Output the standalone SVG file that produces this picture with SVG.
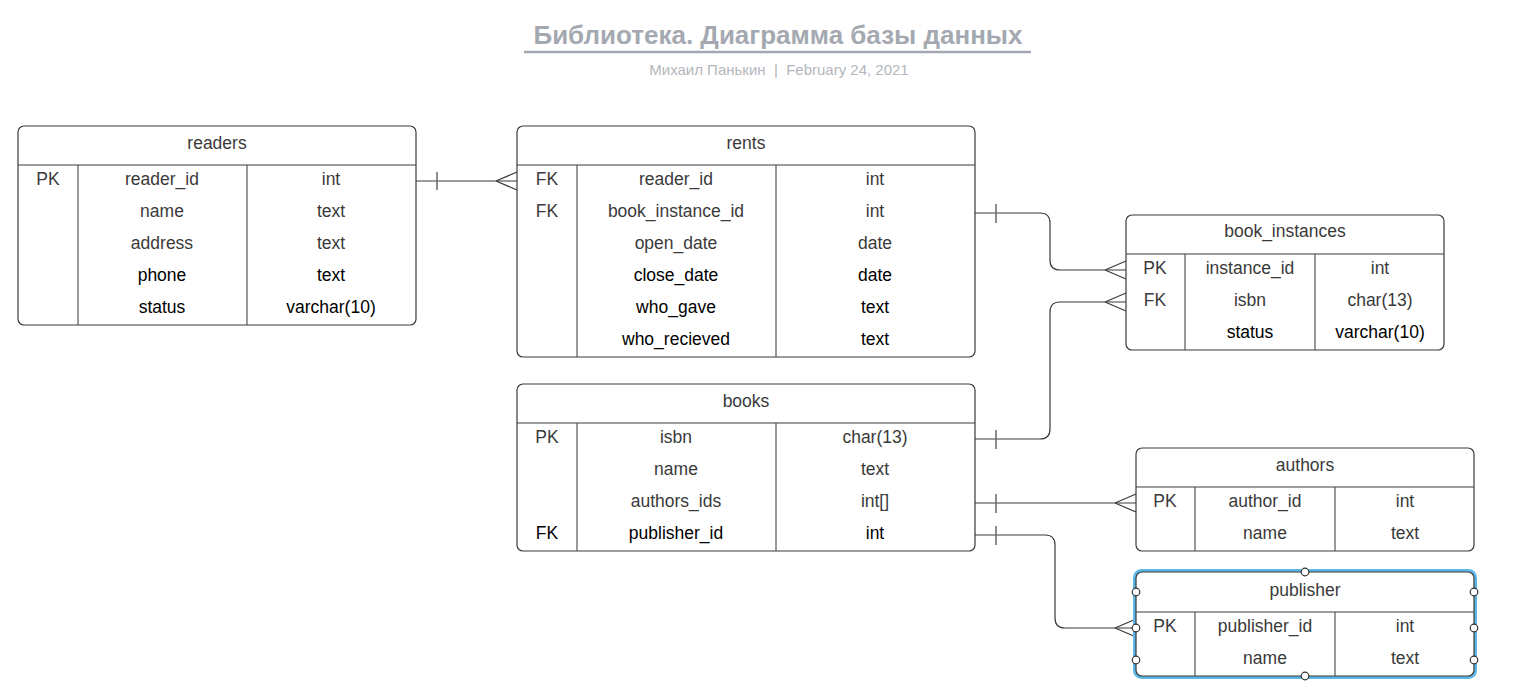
<svg xmlns="http://www.w3.org/2000/svg" width="1521" height="692" viewBox="0 0 1521 692">
<style>
text{font-family:"Liberation Sans",Arial,sans-serif;font-size:17.5px;text-anchor:middle;fill:#3a3a3a}
.k{fill:#000}
.box{fill:#fff;stroke:#3a3a3a;stroke-width:1.2}
.ln{stroke:#555;stroke-width:1.2;fill:none}
.cn{stroke:#3a3a3a;stroke-width:1.2;fill:none}
.bar{stroke:#666;stroke-width:1.5}
.title{font-size:26px;font-weight:bold;fill:#a4a9b1}
.sub{font-size:15px;fill:#b3b7bd}
.h{fill:#fff;stroke:#333;stroke-width:1.2}
</style>
<rect width="1521" height="692" fill="#fff"/>
<g id="title">
<text class="title" x="778" y="44">Библиотека. Диаграмма базы данных</text>
<line x1="524" y1="52" x2="1031" y2="52" stroke="#a4a9b1" stroke-width="2.5"/>
<text class="sub" x="779" y="75" xml:space="preserve">Михаил Панькин  |  February 24, 2021</text>
</g>
<g id="connectors">
<line class="cn" x1="416" y1="181" x2="517" y2="181"/>
<line class="bar" x1="437" y1="172" x2="437" y2="190"/>
<path class="cn" d="M496 181 L517 172 M496 181 L517 190"/>
<path class="cn" d="M975 213 H1040 Q1050 213 1050 223 V260 Q1050 270 1060 270 H1126"/>
<line class="bar" x1="996" y1="204" x2="996" y2="223"/>
<path class="cn" d="M1105 270 L1126 261 M1105 270 L1126 279"/>
<path class="cn" d="M975 439 H1040 Q1050 439 1050 429 V312 Q1050 302 1060 302 H1126"/>
<line class="bar" x1="996" y1="430" x2="996" y2="449"/>
<path class="cn" d="M1105 302 L1126 293 M1105 302 L1126 311"/>
<line class="cn" x1="975" y1="503" x2="1136" y2="503"/>
<line class="bar" x1="996" y1="494" x2="996" y2="513"/>
<path class="cn" d="M1115 503 L1136 494 M1115 503 L1136 512"/>
<path class="cn" d="M975 535 H1045 Q1055 535 1055 545 V618 Q1055 628 1065 628 H1136"/>
<line class="bar" x1="996" y1="526" x2="996" y2="545"/>
<path class="cn" d="M1115 628 L1136 619 M1115 628 L1136 637"/>
</g>
<g id="readers">
<rect class="box" x="18" y="126" width="398" height="199" rx="6"/>
<line class="cn" x1="18" y1="165" x2="416" y2="165"/>
<line class="ln" x1="78" y1="165" x2="78" y2="325"/>
<line class="ln" x1="247" y1="165" x2="247" y2="325"/>
<text x="217" y="149">readers</text>
<text x="48" y="185">PK</text><text x="162" y="185">reader_id</text><text x="331" y="185">int</text>
<text x="162" y="217">name</text><text x="331" y="217">text</text>
<text x="162" y="249">address</text><text x="331" y="249">text</text>
<text class="k" x="162" y="281">phone</text><text class="k" x="331" y="281">text</text>
<text class="k" x="162" y="313">status</text><text class="k" x="331" y="313">varchar(10)</text>
</g>
<g id="rents">
<rect class="box" x="517" y="126" width="458" height="231" rx="6"/>
<line class="cn" x1="517" y1="165" x2="975" y2="165"/>
<line class="ln" x1="577" y1="165" x2="577" y2="357"/>
<line class="ln" x1="776" y1="165" x2="776" y2="357"/>
<text x="746" y="149">rents</text>
<text x="547" y="185">FK</text><text x="676" y="185">reader_id</text><text x="875" y="185">int</text>
<text x="547" y="217">FK</text><text x="676" y="217">book_instance_id</text><text x="875" y="217">int</text>
<text x="676" y="249">open_date</text><text x="875" y="249">date</text>
<text class="k" x="676" y="281">close_date</text><text class="k" x="875" y="281">date</text>
<text class="k" x="676" y="313">who_gave</text><text class="k" x="875" y="313">text</text>
<text class="k" x="676" y="345">who_recieved</text><text class="k" x="875" y="345">text</text>
</g>
<g id="book_instances">
<rect class="box" x="1126" y="215" width="318" height="135" rx="6"/>
<line class="cn" x1="1126" y1="254" x2="1444" y2="254"/>
<line class="ln" x1="1185" y1="254" x2="1185" y2="350"/>
<line class="ln" x1="1315" y1="254" x2="1315" y2="350"/>
<text x="1285" y="237">book_instances</text>
<text x="1155" y="274">PK</text><text x="1250" y="274">instance_id</text><text x="1380" y="274">int</text>
<text x="1155" y="306">FK</text><text x="1250" y="306">isbn</text><text x="1380" y="306">char(13)</text>
<text class="k" x="1250" y="338">status</text><text class="k" x="1380" y="338">varchar(10)</text>
</g>
<g id="books">
<rect class="box" x="517" y="384" width="458" height="167" rx="6"/>
<line class="cn" x1="517" y1="423" x2="975" y2="423"/>
<line class="ln" x1="577" y1="423" x2="577" y2="551"/>
<line class="ln" x1="776" y1="423" x2="776" y2="551"/>
<text x="746" y="407">books</text>
<text x="547" y="443">PK</text><text x="676" y="443">isbn</text><text x="875" y="443">char(13)</text>
<text x="676" y="475">name</text><text x="875" y="475">text</text>
<text x="676" y="507">authors_ids</text><text x="875" y="507">int[]</text>
<text class="k" x="547" y="539">FK</text><text class="k" x="676" y="539">publisher_id</text><text class="k" x="875" y="539">int</text>
</g>
<g id="authors">
<rect class="box" x="1136" y="448" width="338" height="103" rx="6"/>
<line class="cn" x1="1136" y1="487" x2="1474" y2="487"/>
<line class="ln" x1="1195" y1="487" x2="1195" y2="551"/>
<line class="ln" x1="1335" y1="487" x2="1335" y2="551"/>
<text x="1305" y="471">authors</text>
<text x="1165" y="507">PK</text><text x="1265" y="507">author_id</text><text x="1405" y="507">int</text>
<text x="1265" y="539">name</text><text x="1405" y="539">text</text>
</g>
<g id="publisher">
<rect x="1134.5" y="570.5" width="341" height="107" rx="7" fill="none" stroke="#5bb8e6" stroke-width="3"/>
<rect class="box" x="1136" y="572" width="338" height="104" rx="6"/>
<line class="cn" x1="1136" y1="612" x2="1474" y2="612"/>
<line class="ln" x1="1195" y1="612" x2="1195" y2="676"/>
<line class="ln" x1="1335" y1="612" x2="1335" y2="676"/>
<text x="1305" y="596">publisher</text>
<text x="1165" y="632">PK</text><text x="1265" y="632">publisher_id</text><text x="1405" y="632">int</text>
<text x="1265" y="664">name</text><text x="1405" y="664">text</text>
<circle class="h" cx="1305" cy="572" r="3.8"/>
<circle class="h" cx="1305" cy="676" r="3.8"/>
<circle class="h" cx="1136" cy="592" r="3.8"/>
<circle class="h" cx="1136" cy="628" r="3.8"/>
<circle class="h" cx="1136" cy="660" r="3.8"/>
<circle class="h" cx="1474" cy="592" r="3.8"/>
<circle class="h" cx="1474" cy="628" r="3.8"/>
<circle class="h" cx="1474" cy="660" r="3.8"/>
</g>
</svg>
